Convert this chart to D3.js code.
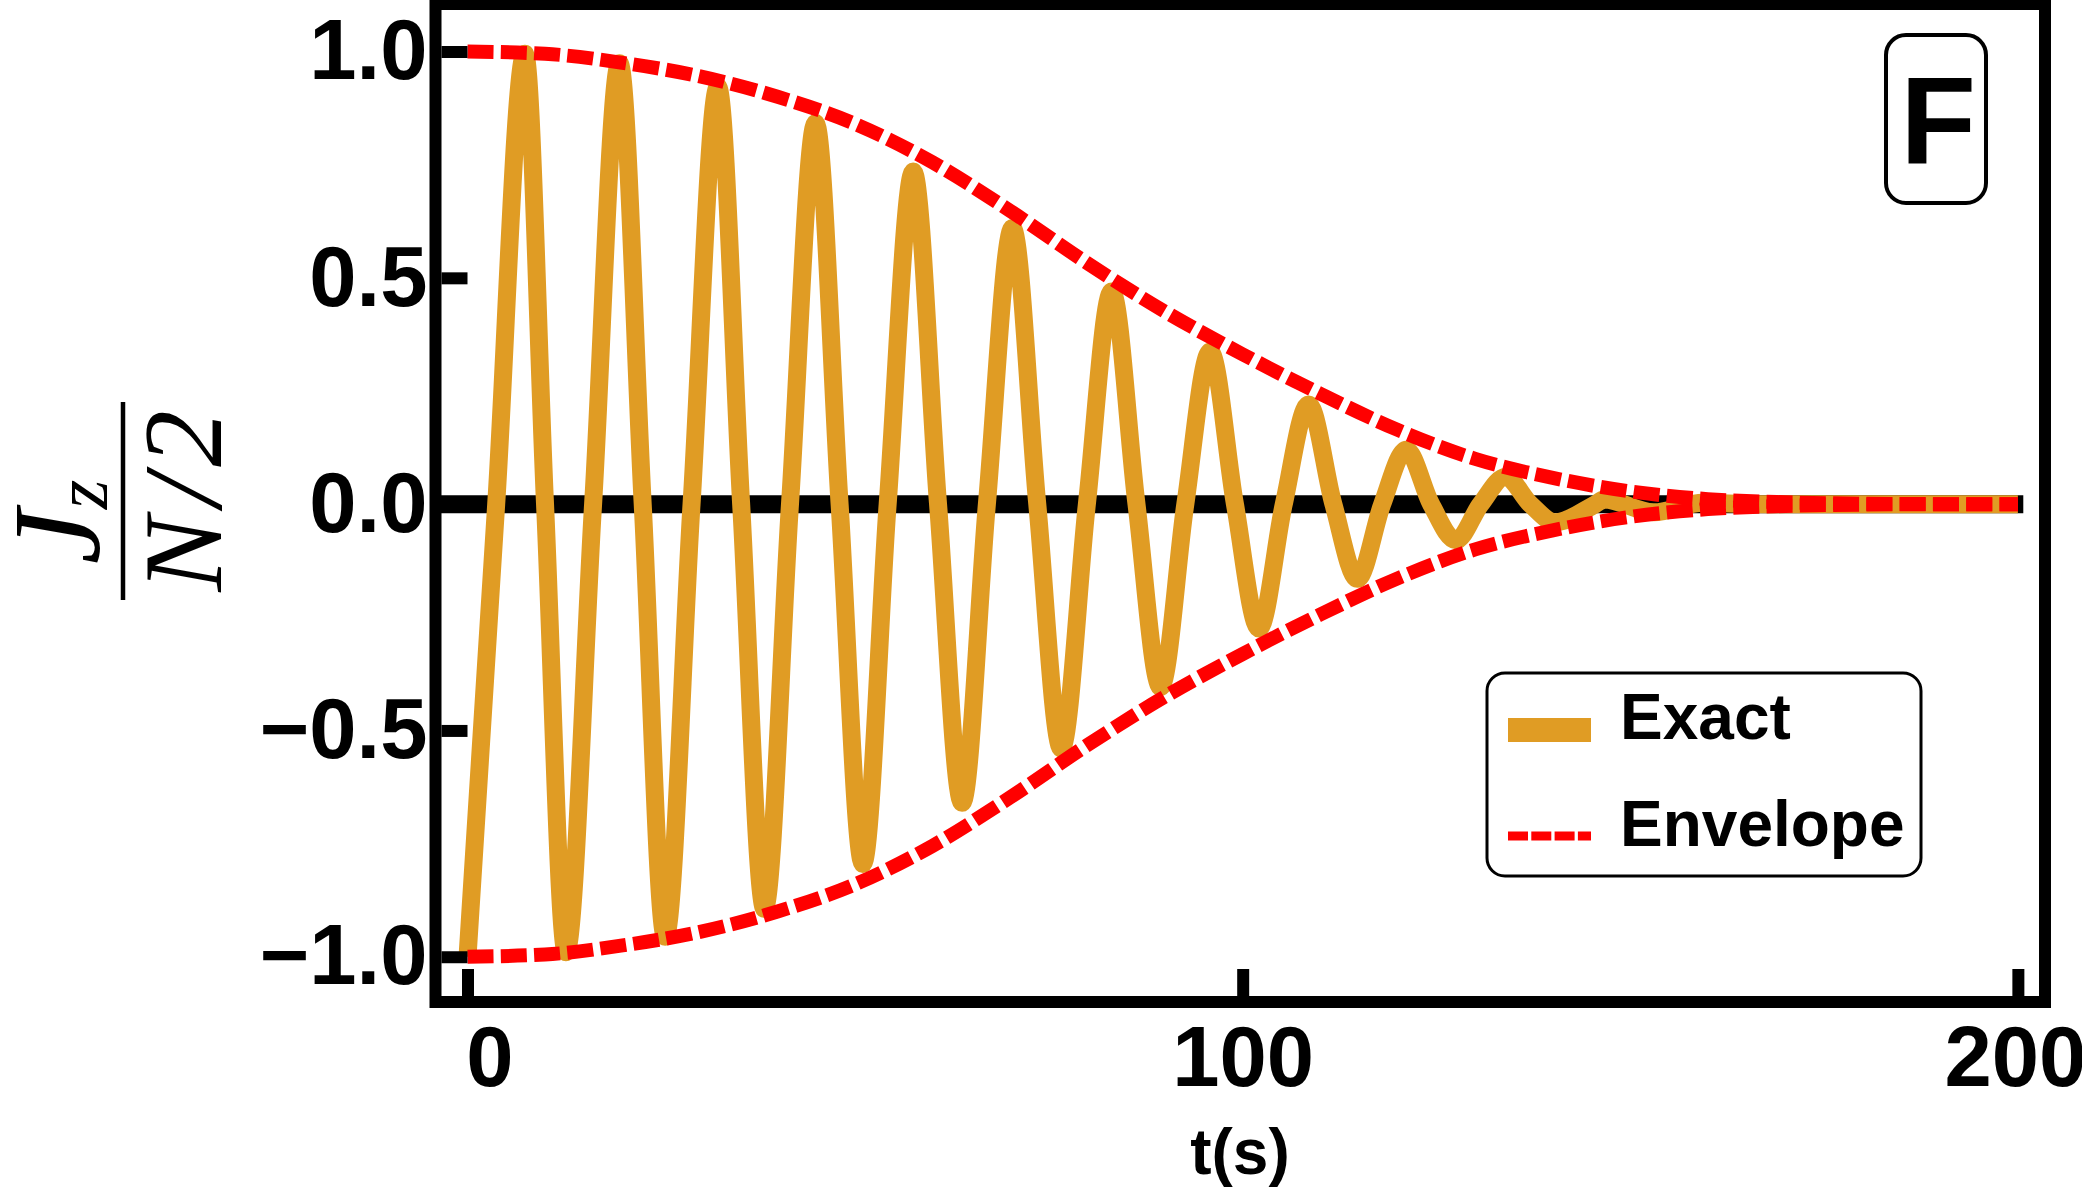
<!DOCTYPE html>
<html>
<head>
<meta charset="utf-8">
<script src="https://cdn.jsdelivr.net/npm/d3@7.9.0/dist/d3.min.js"></script>
<style>
  body { margin: 0; background: #fff; }
  svg { display: block; }
  .tick text { font-family: "Liberation Sans", Arial, sans-serif; font-weight: bold; }
</style>
</head>
<body>
<svg id="chart" width="2082" height="1190"></svg>
<script>
// values
const xTicks = [0, 100, 200];
const yTicks = [-1, -0.5, 0, 0.5, 1];
const seriesNames = ['Exact', 'Envelope'];

// exact curve: extrema and zero crossings, t in seconds
const exactT = [0, 3.7, 7.4, 10.0, 12.7, 16.2, 19.6, 22.6, 25.5, 28.9, 32.3, 35.3, 38.3, 41.6, 44.9,
  48.0, 51.0, 54.2, 57.5, 60.7, 63.8, 67.0, 70.3, 73.5, 76.6, 79.9, 83.1, 86.3, 89.4, 92.6, 95.8,
  99.0, 102.1, 105.3, 108.5, 111.7, 114.8, 118.0, 121.1, 124.3, 127.5, 130.7, 133.9, 137.1, 140.3,
  145.5, 146.6, 153.0, 159.4, 166, 180, 200];
const exactV = [-1.0, 0, 0.995, 0, -0.99, 0, 0.974, 0, -0.956, 0, 0.922, 0, -0.894, 0, 0.842,
  0, -0.795, 0, 0.735, 0, -0.66, 0, 0.61, 0, -0.54, 0, 0.47, 0, -0.404, 0, 0.337,
  0, -0.275, 0, 0.22, 0, -0.165, 0, 0.12, 0, -0.08, 0, 0.06, 0, -0.04,
  0, 0.01, -0.018, 0.003, 0, 0, 0];

// envelope
const envT = [0, 10, 20, 30, 40, 50, 60, 70, 80, 90, 100, 110, 120, 130, 140, 150, 160, 170, 180, 190, 200];
const envUpper = [1.0, 0.995, 0.975, 0.945, 0.9, 0.84, 0.755, 0.648, 0.532, 0.425, 0.331, 0.244, 0.164,
  0.1, 0.058, 0.028, 0.011, 0.004, 0.001, 0, 0];
const envLower = [-1.0, -0.995, -0.975, -0.945, -0.9, -0.84, -0.755, -0.648, -0.532, -0.425, -0.331, -0.244, -0.164,
  -0.1, -0.058, -0.028, -0.011, -0.004, -0.001, 0, 0];

const orange = '#e09c24';
const svg = d3.select('#chart');

const x = d3.scaleLinear().domain([-4.13, 203.5]).range([435.5, 2045]);
const y = d3.scaleLinear().domain([-1.1, 1.105]).range([1002, 4]);

const line = d3.line()
  .x(d => x(d[0]))
  .y(d => y(d[1]))
  .curve(d3.curveMonotoneX);

// zero axis line
svg.append('line')
  .attr('x1', x(-4.13)).attr('x2', x(200.7))
  .attr('y1', y(0)).attr('y2', y(0))
  .attr('stroke', '#000').attr('stroke-width', 18);

svg.append('path')
  .attr('d', line(exactT.map((t, i) => [t, exactV[i]])))
  .attr('fill', 'none')
  .attr('stroke', orange)
  .attr('stroke-width', 18);

[envUpper, envLower].forEach(vals => {
  svg.append('path')
    .attr('d', line(envT.map((t, i) => [t, vals[i]])))
    .attr('fill', 'none')
    .attr('stroke', '#ff0000')
    .attr('stroke-width', 14)
    .attr('stroke-dasharray', '26,7.3');
});

// frame
svg.append('rect')
  .attr('x', x.range()[0]).attr('y', y.range()[1])
  .attr('width', x.range()[1] - x.range()[0])
  .attr('height', y.range()[0] - y.range()[1])
  .attr('fill', 'none')
  .attr('stroke', '#000')
  .attr('stroke-width', 12);

// axes, ticks point inward
const yAxis = svg.append('g')
  .attr('transform', `translate(${x.range()[0] + 6},0)`)
  .call(d3.axisLeft(y).tickValues(yTicks).tickFormat(d3.format('.1f'))
    .tickSizeInner(-26).tickSizeOuter(0).tickPadding(14));
yAxis.select('.domain').remove();
yAxis.selectAll('.tick line').attr('stroke-width', 12).attr('stroke', '#000');
yAxis.selectAll('.tick text').attr('font-size', 85).attr('fill', '#000');

const xAxis = svg.append('g')
  .attr('transform', `translate(0,${y.range()[0] - 6})`)
  .call(d3.axisBottom(x).tickValues(xTicks).tickFormat(d3.format('d'))
    .tickSizeInner(-27).tickSizeOuter(0).tickPadding(30));
xAxis.select('.domain').remove();
xAxis.selectAll('.tick line').attr('stroke-width', 12).attr('stroke', '#000');
xAxis.selectAll('.tick text').attr('font-size', 85).attr('fill', '#000')
  .attr('dx', d => d === 0 ? 22 : (d === 200 ? -3 : 0));

// axis titles
svg.append('text')
  .attr('x', 1240).attr('y', 1174)
  .attr('text-anchor', 'middle')
  .attr('font-family', '"Liberation Sans", Arial, sans-serif')
  .attr('font-weight', 'bold')
  .attr('font-size', 64)
  .text('t(s)');

const serif = '"Liberation Serif", "Times New Roman", serif';
const num = svg.append('text')
  .attr('transform', 'translate(99,522) rotate(-90)')
  .attr('text-anchor', 'middle')
  .attr('font-family', serif).attr('font-style', 'italic').attr('font-size', 124);
num.append('tspan').text('J');
num.append('tspan').attr('font-size', 76).attr('dy', 8).text('z');

svg.append('line')
  .attr('x1', 123).attr('x2', 123).attr('y1', 402).attr('y2', 600)
  .attr('stroke', '#000').attr('stroke-width', 4.5);

const den = svg.append('text')
  .attr('transform', 'translate(221,501) rotate(-90)')
  .attr('text-anchor', 'middle')
  .attr('font-family', serif).attr('font-style', 'italic').attr('font-size', 113);
den.append('tspan').text('N');
den.append('tspan').attr('dx', 10).text('/');
den.append('tspan').attr('dx', 8).text('2');

// panel label
svg.append('rect')
  .attr('x', 1886).attr('y', 35).attr('width', 100).attr('height', 168)
  .attr('rx', 20).attr('fill', '#fff').attr('stroke', '#000').attr('stroke-width', 4);
svg.append('text')
  .attr('x', 1938).attr('y', 163)
  .attr('text-anchor', 'middle')
  .attr('font-family', '"Liberation Sans", Arial, sans-serif')
  .attr('font-weight', 'bold').attr('font-size', 124)
  .text('F');

// legend
const legend = svg.append('g');
legend.append('rect')
  .attr('x', 1487).attr('y', 673).attr('width', 434).attr('height', 203)
  .attr('rx', 18).attr('fill', '#fff').attr('stroke', '#000').attr('stroke-width', 3);

const legendY = [730, 836];
legend.append('line')
  .attr('x1', 1508).attr('x2', 1591).attr('y1', legendY[0]).attr('y2', legendY[0])
  .attr('stroke', orange).attr('stroke-width', 24);
legend.append('line')
  .attr('x1', 1508).attr('x2', 1591).attr('y1', legendY[1]).attr('y2', legendY[1])
  .attr('stroke', '#ff0000').attr('stroke-width', 9).attr('stroke-dasharray', '20,3.3');

seriesNames.forEach((name, i) => {
  legend.append('text')
    .attr('x', 1620).attr('y', legendY[i] + (i === 0 ? 9 : 10))
    .attr('font-family', '"Liberation Sans", Arial, sans-serif')
    .attr('font-weight', 'bold').attr('font-size', 64)
    .text(name);
});
</script>
</body>
</html>
